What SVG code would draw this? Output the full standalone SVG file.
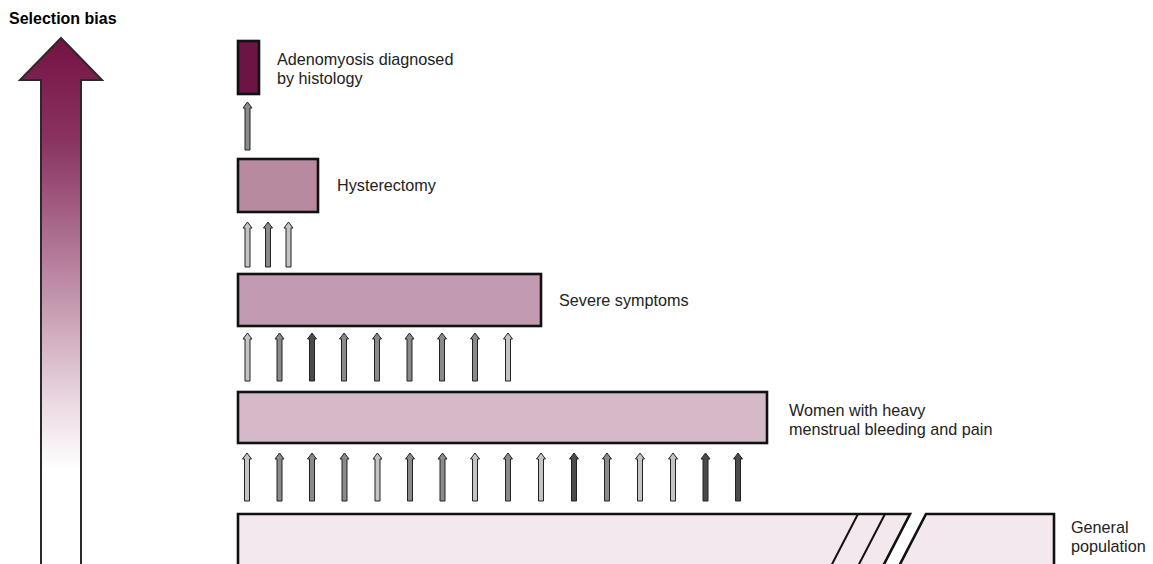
<svg xmlns="http://www.w3.org/2000/svg" xmlns:xlink="http://www.w3.org/1999/xlink" width="1153" height="564" viewBox="0 0 1153 564">
<style>
  .lbl { font-family: "Liberation Sans", Arial, sans-serif; font-size: 16.2px; fill: #222; }
  .ttl { font-family: "Liberation Sans", Arial, sans-serif; font-size: 16px; font-weight: bold; fill: #000; }
  .box { stroke: #111; stroke-width: 2.6; }
  .up { stroke: #222; stroke-width: 1; stroke-linejoin: miter; }
  .l { fill: #c4c4c4; }
  .m { fill: #8a8a8a; }
  .d { fill: #4a4a4a; }
</style>
<defs>
  <linearGradient id="bias" gradientUnits="userSpaceOnUse" x1="0" y1="38" x2="0" y2="564">
    <stop offset="0" stop-color="#741243"/>
    <stop offset="0.2" stop-color="#8a3462"/>
    <stop offset="0.5" stop-color="#c497ae"/>
    <stop offset="0.7" stop-color="#ecdbe4"/>
    <stop offset="0.82" stop-color="#ffffff"/>
    <stop offset="1" stop-color="#ffffff"/>
  </linearGradient>
  <path id="a48" d="M0,0 L4.5,6 L2.5,6 L2.5,48 L-2.5,48 L-2.5,6 L-4.5,6 Z"/>
  <path id="a45" d="M0,0 L4.5,6 L2.5,6 L2.5,45 L-2.5,45 L-2.5,6 L-4.5,6 Z"/>
</defs>
<rect width="1153" height="564" fill="#fff"/>

<g id="selection-bias">
  <text class="ttl" x="9" y="24">Selection bias</text>
  <polygon points="61,38 102,80 81,80 81,570 41,570 41,80 20,80" fill="url(#bias)" stroke="#2a2a2a" stroke-width="2"/>
</g>

<g id="node-histology">
  <rect class="box" x="238" y="41" width="21" height="53" fill="#6c1444"/>
  <text class="lbl" x="277" y="65">Adenomyosis diagnosed</text>
  <text class="lbl" x="277" y="84">by histology</text>
</g>

<g id="node-hysterectomy">
  <rect class="box" x="238" y="159" width="80" height="53" fill="#b88aa0"/>
  <text class="lbl" x="337" y="191">Hysterectomy</text>
</g>

<g id="node-severe">
  <rect class="box" x="238" y="274" width="303" height="52" fill="#c39bb0"/>
  <text class="lbl" x="559" y="306">Severe symptoms</text>
</g>

<g id="node-women">
  <rect class="box" x="238" y="392" width="529" height="51" fill="#d6b9c8"/>
  <text class="lbl" x="789" y="416">Women with heavy</text>
  <text class="lbl" x="789" y="435">menstrual bleeding and pain</text>
</g>

<g id="node-general">
  <path d="M238,570 L238,514 L910,514 L881,570 Z" fill="#f2e8ee"/>
  <path d="M926,514 L1054,514 L1054,570 L897,570 Z" fill="#f2e8ee"/>
  <path d="M238,570 L238,514 L910,514 L881,570" fill="none" class="box"/>
  <path d="M897,570 L926,514 L1054,514 L1054,570" fill="none" class="box"/>
  <line x1="858" y1="514" x2="829" y2="570" stroke="#111" stroke-width="2"/>
  <line x1="885" y1="514" x2="856" y2="570" stroke="#111" stroke-width="2"/>
  <text class="lbl" x="1071" y="533">General</text>
  <text class="lbl" x="1071" y="552">population</text>
</g>

<g id="connectors">
  <use href="#a48" class="up m" x="247.5" y="102"/>

  <use href="#a45" class="up l" x="247.5" y="222"/>
  <use href="#a45" class="up m" x="268" y="222"/>
  <use href="#a45" class="up l" x="288.5" y="222"/>

  <use href="#a48" class="up l" x="247.5" y="333"/>
  <use href="#a48" class="up m" x="279.5" y="333"/>
  <use href="#a48" class="up d" x="312" y="333"/>
  <use href="#a48" class="up m" x="344" y="333"/>
  <use href="#a48" class="up m" x="377" y="333"/>
  <use href="#a48" class="up m" x="409.5" y="333"/>
  <use href="#a48" class="up m" x="442" y="333"/>
  <use href="#a48" class="up m" x="475" y="333"/>
  <use href="#a48" class="up l" x="508" y="333"/>

  <use href="#a48" class="up l" x="247" y="453"/>
  <use href="#a48" class="up m" x="279.5" y="453"/>
  <use href="#a48" class="up m" x="312" y="453"/>
  <use href="#a48" class="up m" x="344.5" y="453"/>
  <use href="#a48" class="up l" x="377.5" y="453"/>
  <use href="#a48" class="up m" x="410" y="453"/>
  <use href="#a48" class="up m" x="442.5" y="453"/>
  <use href="#a48" class="up l" x="475" y="453"/>
  <use href="#a48" class="up m" x="508" y="453"/>
  <use href="#a48" class="up l" x="541" y="453"/>
  <use href="#a48" class="up d" x="574" y="453"/>
  <use href="#a48" class="up m" x="607" y="453"/>
  <use href="#a48" class="up l" x="640" y="453"/>
  <use href="#a48" class="up l" x="673" y="453"/>
  <use href="#a48" class="up d" x="705.5" y="453"/>
  <use href="#a48" class="up d" x="738" y="453"/>
</g>
</svg>
